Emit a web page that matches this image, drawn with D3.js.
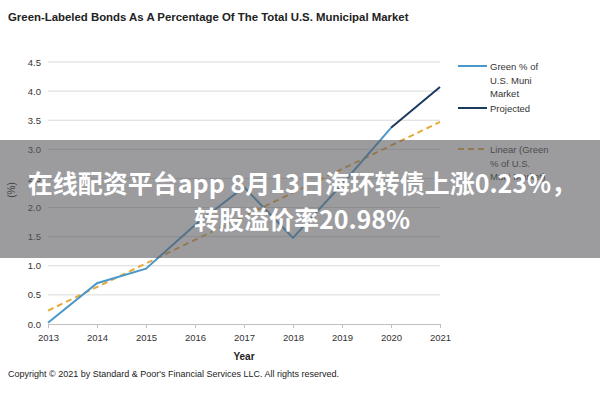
<!DOCTYPE html>
<html><head><meta charset="utf-8">
<script src="https://cdn.jsdelivr.net/npm/d3@7"></script>
<style>html,body{margin:0;padding:0;background:#fff;}svg{display:block;}</style>
</head><body>
<svg id="chart" width="600" height="400"></svg>
<script>
const title = "Green-Labeled Bonds As A Percentage Of The Total U.S. Municipal Market";
const years = [2013, 2014, 2015, 2016, 2017, 2018, 2019, 2020];
const greenPct = [0.02, 0.70, 0.95, 1.70, 2.35, 1.48, 2.40, 3.37];
const projectedYears = [2020, 2021];
const projectedPct = [3.37, 4.07];
const trendYears = [2013, 2021];
const trendPct = [0.23, 3.47];
const xTicks = [2013, 2014, 2015, 2016, 2017, 2018, 2019, 2020, 2021];
const yTicks = [0, 0.5, 1.0, 1.5, 2.0, 2.5, 3.0, 3.5, 4.0, 4.5];
const legendLabels = [["Green % of", "U.S. Muni", "Market"], ["Projected"], ["Linear (Green", "% of U.S.", "Muni Market)"]];
const copyright = "Copyright \u00a9 2021 by Standard & Poor's Financial Services LLC. All rights reserved.";
const bannerLines = ["在线配资平台app 8月13日海环转债上涨0.23%，", "转股溢价率20.98%"];

const svg = d3.select("#chart");
const font = "Liberation Sans, Arial, sans-serif";
const x = d3.scaleLinear().domain([2013, 2021]).range([48, 440]);
const y = d3.scaleLinear().domain([0, 4.5]).range([324, 62]);

svg.append("text").attr("x", 8).attr("y", 21).attr("font-family", font)
  .attr("font-size", 11.4).attr("font-weight", "bold").attr("fill", "#222").text(title);

// grid
svg.append("g").selectAll("line").data(yTicks.filter(d => d > 0)).join("line")
  .attr("x1", x(2013)).attr("x2", x(2021)).attr("y1", d => y(d)).attr("y2", d => y(d))
  .attr("stroke", "#d9d9d9").attr("stroke-width", 1);

// y axis
const yAxis = svg.append("g").attr("transform", `translate(${x(2013)},0)`)
  .call(d3.axisLeft(y).tickValues(yTicks).tickFormat(d3.format(".1f")).tickSize(0).tickPadding(7));
yAxis.select(".domain").remove();
yAxis.selectAll("text").attr("font-family", font).attr("font-size", 9.5).attr("fill", "#333");

// x axis
const xAxis = svg.append("g").attr("transform", `translate(0,${y(0)})`)
  .call(d3.axisBottom(x).tickValues(xTicks).tickFormat(d3.format("d")).tickSize(4).tickPadding(6));
xAxis.select(".domain").attr("stroke", "#bfbfbf");
xAxis.selectAll(".tick line").attr("stroke", "#bfbfbf");
xAxis.selectAll("text").attr("font-family", font).attr("font-size", 9.5).attr("fill", "#333");

svg.append("text").attr("x", 244).attr("y", 360).attr("text-anchor", "middle")
  .attr("font-family", font).attr("font-size", 10).attr("font-weight", "bold").attr("fill", "#222").text("Year");
svg.append("text").attr("transform", "translate(15,190) rotate(-90)").attr("text-anchor", "middle")
  .attr("font-family", font).attr("font-size", 10).attr("fill", "#222").text("(%)");

const line = d3.line().x(d => x(d[0])).y(d => y(d[1]));
svg.append("path").datum(trendYears.map((t, i) => [t, trendPct[i]])).attr("d", line)
  .attr("fill", "none").attr("stroke", "#e9a93a").attr("stroke-width", 2).attr("stroke-dasharray", "6,4");
svg.append("path").datum(years.map((t, i) => [t, greenPct[i]])).attr("d", line)
  .attr("fill", "none").attr("stroke", "#4a98c9").attr("stroke-width", 2);
svg.append("path").datum(projectedYears.map((t, i) => [t, projectedPct[i]])).attr("d", line)
  .attr("fill", "none").attr("stroke", "#1b3a60").attr("stroke-width", 2);

// legend
const legStyles = [{c: "#4a98c9", d: null, y: 66}, {c: "#1b3a60", d: null, y: 108}, {c: "#e9a93a", d: "6,4", y: 149}];
legStyles.forEach((s, i) => {
  svg.append("line").attr("x1", 458).attr("x2", 487).attr("y1", s.y).attr("y2", s.y)
    .attr("stroke", s.c).attr("stroke-width", 2).attr("stroke-dasharray", s.d);
  legendLabels[i].forEach((t, j) => {
    svg.append("text").attr("x", 490).attr("y", s.y + 4 + j * 13.5).attr("font-family", font)
      .attr("font-size", 9.5).attr("fill", "#333").text(t);
  });
});

svg.append("text").attr("x", 8).attr("y", 377).attr("font-family", font)
  .attr("font-size", 9).attr("fill", "#222").text(copyright);

// banner overlay
svg.append("rect").attr("x", 0).attr("y", 140).attr("width", 600).attr("height", 118)
  .attr("fill", "rgb(90,90,95)").attr("fill-opacity", 0.6);
bannerLines.forEach((t, i) => {
  svg.append("text").attr("x", 302).attr("y", 193 + i * 36).attr("text-anchor", "middle")
    .attr("font-family", "Noto Sans CJK SC, sans-serif").attr("font-size", 25).attr("font-weight", "bold")
    .attr("fill", "#fff").text(t);
});
</script>
</body></html>
